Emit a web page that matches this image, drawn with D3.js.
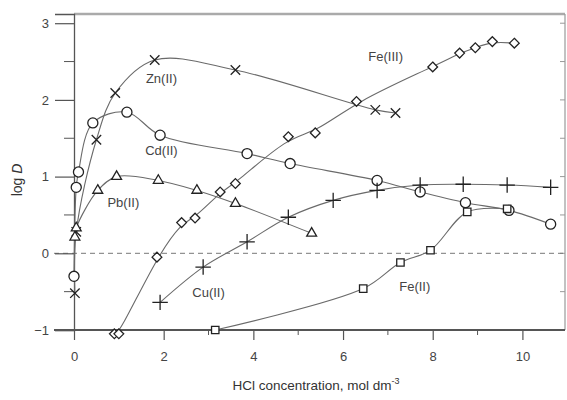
<!DOCTYPE html>
<html>
<head>
<meta charset="utf-8">
<script src="https://cdn.jsdelivr.net/npm/d3@7"></script>
<style>
  body { margin: 0; background: #fff; }
  svg { display: block; font-family: "Liberation Sans", Arial, sans-serif; }
</style>
</head>
<body>
<div id="chart"></div>
<script>
// Series: [HCl concentration, log D]
const zn = [[0.02, -0.52], [0.05, 0.28], [0.5, 1.48], [0.92, 2.09], [1.8, 2.52], [3.6, 2.39], [6.72, 1.87], [7.17, 1.83]];
const cd = [[0, -0.3], [0.05, 0.86], [0.1, 1.06], [0.42, 1.7], [1.18, 1.84], [1.92, 1.54], [3.86, 1.3], [4.82, 1.17], [6.76, 0.95], [7.72, 0.8], [8.73, 0.66], [9.7, 0.56], [10.63, 0.38]];
const pb = [[0.02, 0.21], [0.05, 0.33], [0.53, 0.82], [0.95, 1.0], [1.88, 0.95], [2.74, 0.82], [3.6, 0.65], [5.3, 0.26]];
const fe3 = [[0.9, -1.05], [1.0, -1.05], [1.85, -0.05], [2.4, 0.4], [2.7, 0.46], [3.26, 0.8], [3.6, 0.91], [4.78, 1.52], [5.38, 1.57], [6.3, 1.98], [8.0, 2.43], [8.6, 2.61], [8.95, 2.68], [9.33, 2.76], [9.82, 2.74]];
const cu = [[1.92, -0.64], [2.88, -0.18], [3.86, 0.15], [4.78, 0.47], [5.78, 0.69], [6.76, 0.82], [7.72, 0.89], [8.68, 0.9], [9.66, 0.89], [10.63, 0.86]];
const fe2 = [[3.15, -1.0], [6.45, -0.46], [7.28, -0.12], [7.95, 0.04], [8.77, 0.54], [9.66, 0.58]];

const xTicks = [0, 2, 4, 6, 8, 10];
const yTicks = [-1, 0, 1, 2, 3];

// label positions in data units
const labels = [
    { text: "Zn(II)", x: 1.95, y: 2.27 },
    { text: "Cd(II)", x: 1.95, y: 1.32 },
    { text: "Pb(II)", x: 1.1, y: 0.65 },
    { text: "Fe(III)", x: 6.95, y: 2.55 },
    { text: "Cu(II)", x: 3.0, y: -0.53 },
    { text: "Fe(II)", x: 7.6, y: -0.45 }
];

const width = 567, height = 400;
const margin = { top: 14, right: 2, bottom: 70, left: 74 };

const svg = d3.select('#chart').append('svg')
    .attr('width', width)
    .attr('height', height);

const x = d3.scaleLinear().domain([0, 10.95]).range([margin.left, width - margin.right]);
const y = d3.scaleLinear().domain([-1, 3.12]).range([height - margin.bottom, margin.top]);

const axisColor = '#555';
const lineColor = '#6a6a6a';

// frame: top (gray) and right
svg.append('line')
    .attr('x1', x(0)).attr('x2', x(10.95))
    .attr('y1', y(3.12)).attr('y2', y(3.12))
    .attr('stroke', '#aaa').attr('stroke-width', 2.5);
svg.append('line')
    .attr('x1', x(10.95)).attr('x2', x(10.95))
    .attr('y1', y(3.12)).attr('y2', y(-1))
    .attr('stroke', '#999').attr('stroke-width', 1.2);

// right axis inner ticks
svg.append('g')
    .selectAll('line')
    .data(d3.range(-0.5, 3.01, 0.5))
    .join('line')
    .attr('x1', x(10.95) - 5).attr('x2', x(10.95))
    .attr('y1', d => y(d)).attr('y2', d => y(d))
    .attr('stroke', '#999');

// dashed zero line
svg.append('line')
    .attr('x1', x(0) - 20).attr('x2', x(10.95))
    .attr('y1', y(0)).attr('y2', y(0))
    .attr('stroke', '#777')
    .attr('stroke-dasharray', '5,4');

// y axis
const yAxis = svg.append('g')
    .attr('transform', `translate(${x(0)},0)`)
    .call(d3.axisLeft(y).tickValues(yTicks).tickSize(19).tickPadding(6).tickFormat(d3.format('d')));
yAxis.select('.domain').attr('stroke', axisColor).attr('stroke-width', 1.3);
yAxis.selectAll('.tick line').attr('stroke', axisColor).attr('stroke-width', 1.2);
yAxis.selectAll('.tick text').attr('font-size', 13).attr('fill', '#444').attr('font-family', '"Liberation Sans", Arial, sans-serif');
yAxis.append('g')
    .selectAll('line')
    .data(d3.range(-0.5, 3.01, 1))
    .join('line')
    .attr('x1', -10).attr('x2', 0)
    .attr('y1', d => y(d)).attr('y2', d => y(d))
    .attr('stroke', axisColor);

// x axis at log D = -1
const xAxis = svg.append('g')
    .attr('transform', `translate(0,${y(-1)})`)
    .call(d3.axisBottom(x).tickValues(xTicks).tickSize(10).tickPadding(12).tickFormat(d3.format('d')));
xAxis.select('.domain').remove();
xAxis.append('line')
    .attr('x1', x(0) - 20).attr('x2', x(10.95))
    .attr('stroke', axisColor).attr('stroke-width', 2.2);
xAxis.selectAll('.tick line').attr('stroke', axisColor).attr('stroke-width', 1.2);
xAxis.selectAll('.tick text').attr('font-size', 13).attr('fill', '#444').attr('font-family', '"Liberation Sans", Arial, sans-serif');
xAxis.append('g')
    .selectAll('line')
    .data([1, 3, 5, 7, 9])
    .join('line')
    .attr('x1', d => x(d)).attr('x2', d => x(d))
    .attr('y1', 0).attr('y2', 5)
    .attr('stroke', axisColor);

// axis titles
svg.append('text')
    .attr('x', 316).attr('y', 390)
    .attr('text-anchor', 'middle')
    .attr('font-size', 13.5)
    .attr('fill', '#333')
    .html('HCl concentration, mol dm<tspan dy="-6" font-size="9">-3</tspan>');

svg.append('text')
    .attr('transform', 'translate(22,180) rotate(-90)')
    .attr('text-anchor', 'middle')
    .attr('font-size', 14)
    .attr('fill', '#333')
    .html('log <tspan font-style="italic">D</tspan>');

// curves
const series = [
    { data: zn, marker: 'cross', curve: d3.curveCatmullRom.alpha(0.5) },
    { data: cd, marker: 'circle', curve: d3.curveCatmullRom.alpha(0.5) },
    { data: pb, marker: 'triangle', curve: d3.curveCatmullRom.alpha(0.5) },
    { data: fe3, marker: 'diamond', curve: d3.curveBasis },
    { data: cu, marker: 'plus', curve: d3.curveCatmullRom.alpha(0.5) },
    { data: fe2, marker: 'square', curve: d3.curveCatmullRom.alpha(0.5) }
];

const plot = svg.append('g');

series.forEach(s => {
    const line = d3.line().x(d => x(d[0])).y(d => y(d[1])).curve(s.curve);
    plot.append('path')
        .attr('d', line(s.data))
        .attr('fill', 'none')
        .attr('stroke', lineColor)
        .attr('stroke-width', 1.1);
});

// markers
const symbolType = {
    cross: d3.symbolX,
    circle: d3.symbolCircle,
    triangle: d3.symbolTriangle2,
    diamond: d3.symbolDiamond2,
    plus: d3.symbolCross2 || d3.symbolPlus,
    square: d3.symbolSquare2
};
const symbolSize = { cross: 60, circle: 80, triangle: 70, diamond: 60, plus: 80, square: 70 };

series.forEach(s => {
    const sym = d3.symbol().type(symbolType[s.marker]).size(symbolSize[s.marker]);
    plot.append('g')
        .selectAll('path')
        .data(s.data)
        .join('path')
        .attr('transform', d => `translate(${x(d[0])},${y(d[1])})`)
        .attr('d', sym)
        .attr('fill', s.marker === 'cross' || s.marker === 'plus' ? 'none' : '#fff')
        .attr('stroke', '#222')
        .attr('stroke-width', 1.3);
});

// series labels
svg.append('g')
    .selectAll('text')
    .data(labels)
    .join('text')
    .attr('x', d => x(d.x))
    .attr('y', d => y(d.y))
    .attr('text-anchor', 'middle')
    .attr('dominant-baseline', 'middle')
    .attr('font-size', 13)
    .attr('fill', '#444')
    .text(d => d.text);
</script>
</body>
</html>
